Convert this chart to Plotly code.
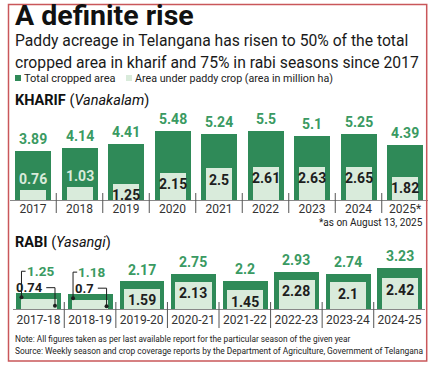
import plotly.graph_objects as go

# ---------------- data ----------------
kharif_years = ["2017", "2018", "2019", "2020", "2021", "2022", "2023", "2024", "2025*"]
kharif_total = [3.89, 4.14, 4.41, 5.48, 5.24, 5.5, 5.1, 5.25, 4.39]
kharif_paddy = [0.76, 1.03, 1.25, 2.15, 2.5, 2.61, 2.63, 2.65, 1.82]

rabi_years = ["2017-18", "2018-19", "2019-20", "2020-21", "2021-22", "2022-23", "2023-24", "2024-25"]
rabi_total = [1.25, 1.18, 2.17, 2.75, 2.2, 2.93, 2.74, 3.23]
rabi_paddy = [0.74, 0.7, 1.59, 2.13, 1.45, 2.28, 2.1, 2.42]

# ---------------- style ----------------
W, H = 432, 371
GREEN = "#2f8a58"
GREEN_TXT = "#3a9a62"
LIGHT = "#d9ebdb"
DARK = "#1e1e1e"
BORDER = "#c9575a"
FONT = "Roboto, Arial, sans-serif"
FONT_T = "Roboto, Lato, Arial, sans-serif"

def px_x(p):
    return p / W

def px_y(p):
    return 1 - p / H

fig = go.Figure()

# Kharif bars
kx = list(range(len(kharif_years)))
fig.add_trace(go.Bar(x=kx, y=kharif_total, width=0.77, marker=dict(color=GREEN, line=dict(width=0)),
                     xaxis="x", yaxis="y", showlegend=False, hoverinfo="skip"))
fig.add_trace(go.Bar(x=kx, y=kharif_paddy, width=0.56, marker=dict(color=LIGHT, line=dict(width=0)),
                     xaxis="x", yaxis="y", showlegend=False, hoverinfo="skip"))

# Rabi bars
rx = list(range(len(rabi_years)))
fig.add_trace(go.Bar(x=rx, y=rabi_total, width=0.87, marker=dict(color=GREEN, line=dict(width=0)),
                     xaxis="x2", yaxis="y2", showlegend=False, hoverinfo="skip"))
fig.add_trace(go.Bar(x=rx, y=rabi_paddy, width=0.7, marker=dict(color=LIGHT, line=dict(width=0)),
                     xaxis="x2", yaxis="y2", showlegend=False, hoverinfo="skip"))

annotations = []
shapes = []

# Kharif labels
for i, (t, p) in enumerate(zip(kharif_total, kharif_paddy)):
    annotations.append(dict(x=i, y=t, xref="x", yref="y", text=f"<b>{t:g}</b>", showarrow=False,
                            yanchor="bottom", yshift=2, font=dict(family=FONT, size=14, color=GREEN_TXT)))
    if p < 1.1:
        annotations.append(dict(x=i, y=p, xref="x", yref="y", text=f"<b>{p:g}</b>", showarrow=False,
                                yanchor="bottom", yshift=1, font=dict(family=FONT, size=14, color="#d9ebdb")))
    else:
        annotations.append(dict(x=i, y=p, xref="x", yref="y", text=f"<b>{p:g}</b>", showarrow=False,
                                yanchor="top", yshift=-1, font=dict(family=FONT, size=14, color=DARK)))

# Rabi labels
unit = 12.6  # px per unit
for i, (t, p) in enumerate(zip(rabi_total, rabi_paddy)):
    if p > 1.0:
        annotations.append(dict(x=i, y=t, xref="x2", yref="y2", text=f"<b>{t:g}</b>", showarrow=False,
                                yanchor="bottom", yshift=2, font=dict(family=FONT, size=14, color=GREEN_TXT)))
        annotations.append(dict(x=i, y=p, xref="x2", yref="y2", text=f"<b>{p:g}</b>", showarrow=False,
                                yanchor="top", yshift=-1, font=dict(family=FONT, size=14, color=DARK)))
    else:
        ty = t + 22 / unit
        py = p + 12 / unit
        annotations.append(dict(x=i - 0.27, y=ty, xref="x2", yref="y2", text=f"<b>{t:g}</b>", showarrow=False,
                                xanchor="left", yanchor="middle", font=dict(family=FONT, size=13.5, color=GREEN_TXT)))
        annotations.append(dict(x=i + 0.12, y=py, xref="x2", yref="y2", text=f"<b>{p:g}</b>", showarrow=False,
                                xanchor="right", yanchor="middle", font=dict(family=FONT, size=13, color=DARK)))
        # leader for total
        fig.add_trace(go.Scatter(x=[i - 0.25, i - 0.33, i - 0.33], y=[ty, ty, t - 4 / unit],
                                 mode="lines", line=dict(color=DARK, width=1),
                                 xaxis="x2", yaxis="y2", showlegend=False, hoverinfo="skip", cliponaxis=False))
        fig.add_trace(go.Scatter(x=[i - 0.33], y=[t - 4 / unit], mode="markers",
                                 marker=dict(color=DARK, size=4), xaxis="x2", yaxis="y2",
                                 showlegend=False, hoverinfo="skip", cliponaxis=False))
        # leader for paddy
        fig.add_trace(go.Scatter(x=[i + 0.15, i + 0.32, i + 0.32], y=[py, py, p - 6 / unit],
                                 mode="lines", line=dict(color=DARK, width=1),
                                 xaxis="x2", yaxis="y2", showlegend=False, hoverinfo="skip", cliponaxis=False))
        fig.add_trace(go.Scatter(x=[i + 0.32], y=[p - 6 / unit], mode="markers",
                                 marker=dict(color=DARK, size=4), xaxis="x2", yaxis="y2",
                                 showlegend=False, hoverinfo="skip", cliponaxis=False))

# separators
for i in range(len(kharif_years) - 1):
    shapes.append(dict(type="line", xref="x", yref="paper", x0=i + 0.5, x1=i + 0.5,
                       y0=px_y(193), y1=px_y(213), line=dict(color="#555", width=1)))
for i in range(len(rabi_years) - 1):
    shapes.append(dict(type="line", xref="x2", yref="paper", x0=i + 0.5, x1=i + 0.5,
                       y0=px_y(302), y1=px_y(328), line=dict(color="#555", width=1)))

# border
shapes.append(dict(type="rect", xref="paper", yref="paper", x0=px_x(8.5), x1=px_x(426.7),
                   y0=px_y(361), y1=px_y(4.5), line=dict(color=BORDER, width=1.5)))

# legend squares
shapes.append(dict(type="rect", xref="paper", yref="paper", x0=px_x(15), x1=px_x(21),
                   y0=px_y(81), y1=px_y(75), fillcolor=GREEN, line=dict(width=0)))
shapes.append(dict(type="rect", xref="paper", yref="paper", x0=px_x(126), x1=px_x(132),
                   y0=px_y(81), y1=px_y(75), fillcolor=LIGHT, line=dict(width=0)))

def text(x, y, s, size, color="#1a1a1a", anchor="left", family=FONT):
    annotations.append(dict(x=px_x(x), y=px_y(y), xref="paper", yref="paper", text=s, showarrow=False,
                            xanchor=anchor, yanchor="middle", font=dict(family=family, size=size, color=color)))

text(13, 16, "<b>A definite rise</b>", 28.5, "#111", family=FONT_T)
text(13, 40.5, "Paddy acreage in Telangana has risen to 50% of the total", 15.7, "#1a1a1a")
text(13, 62, "cropped area in kharif and 75% in rabi seasons since 2017", 15.7, "#1a1a1a")
text(22, 78, "Total cropped area", 11, "#222")
text(133, 78, "Area under paddy crop (area in million ha)", 10.7, "#222")
text(13, 101, "<b>KHARIF</b> (<i>Vanakalam</i>)", 14.5, "#111")
text(13, 242, "<b>RABI</b> (<i>Yasangi</i>)", 14.5, "#111")
text(425, 222, "*as on August 13, 2025", 10, "#222", anchor="right")
text(13, 339, "Note: All figures taken as per last available report for the particular season of the given year", 8.3, "#222")
text(13, 351, "Source: Weekly season and crop coverage reports by the Department of Agriculture, Government of Telangana", 8.4, "#222")

axis_common = dict(showgrid=False, zeroline=False, showline=True, linecolor="#888", linewidth=1,
                   ticks="", tickfont=dict(family=FONT, size=12, color="#333"), fixedrange=True)

fig.update_layout(
    width=W, height=H,
    margin=dict(l=0, r=0, t=0, b=0),
    paper_bgcolor="white", plot_bgcolor="white",
    barmode="overlay",
    bargap=0,
    annotations=annotations,
    shapes=shapes,
    xaxis=dict(domain=[px_x(9.75), px_x(428.25)], range=[-0.5, len(kharif_years) - 0.5],
               tickmode="array", tickvals=kx, ticktext=kharif_years, anchor="y",
               ticklabelstandoff=-2, **axis_common),
    yaxis=dict(domain=[px_y(200), px_y(200 - 6.5 * unit)], range=[0, 6.5], visible=False, anchor="x"),
    xaxis2=dict(domain=[px_x(12.7), px_x(425.3)], range=[-0.5, len(rabi_years) - 0.5],
                tickmode="array", tickvals=rx, ticktext=rabi_years, anchor="y2", **axis_common),
    yaxis2=dict(domain=[px_y(309), px_y(309 - 3.7 * unit)], range=[0, 3.7], visible=False, anchor="x2"),
)

fig.write_html("out.html", config={"displayModeBar": False},
               post_script="document.body.style.margin='0px';document.body.style.overflow='hidden';")
